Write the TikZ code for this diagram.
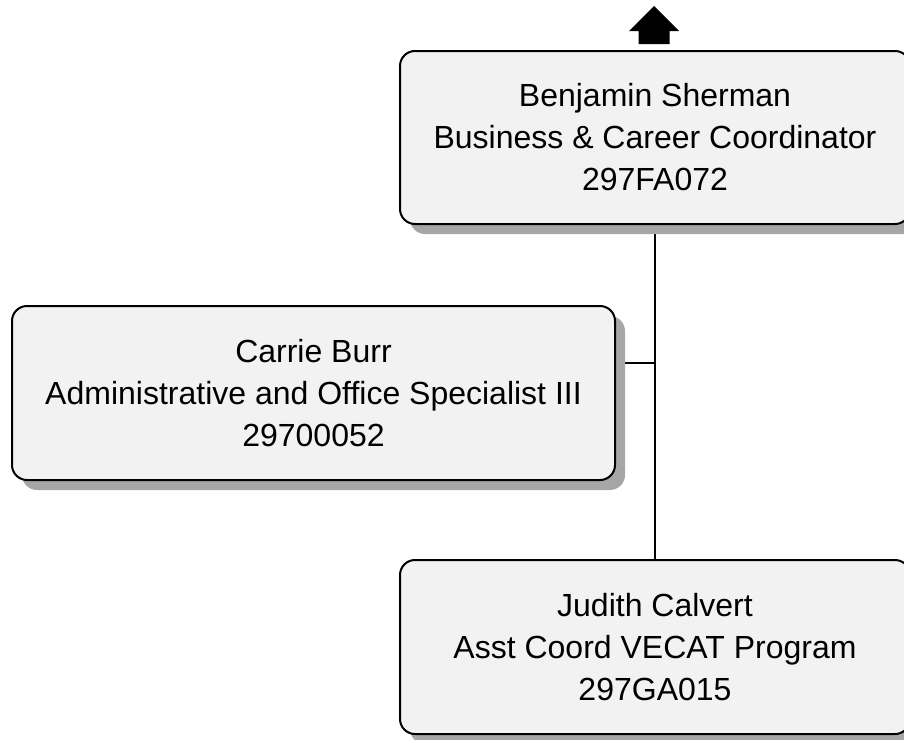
\documentclass[tikz,border=0pt]{standalone}
\usepackage{fontspec}
\setmainfont{Liberation Sans}
\usetikzlibrary{shadows,backgrounds,calc}
\definecolor{boxfill}{HTML}{F2F2F2}
\definecolor{shadowgray}{HTML}{A6A6A6}
\tikzset{
  staffbox/.style={draw, line width=2pt, fill=boxfill, rounded corners=15pt,
    align=center, inner sep=0pt, minimum height=173pt,
    font=\fontsize{32}{42}\selectfont,
    drop shadow={shadow xshift=10pt, shadow yshift=-10pt, fill=shadowgray, opacity=1}},
  link/.style={line width=2pt}
}
\begin{document}
\begin{tikzpicture}[x=1pt,y=1pt]
        % Fix the page size
        \useasboundingbox (0,0) rectangle (904,-739);

        % Draw the boxes
        \node[staffbox, minimum width=510pt] (sherman) at (655,-137.5)
          {Benjamin Sherman\\Business \& Career Coordinator\\297FA072};
        \node[staffbox, minimum width=603pt, minimum height=174pt] (burr) at (313.5,-393)
          {Carrie Burr\\Administrative and Office Specialist III\\29700052};
        \node[staffbox, minimum width=510pt, minimum height=174pt] (calvert) at (655,-647)
          {Judith Calvert\\Asst Coord VECAT Program\\297GA015};

        % Draw the connectors behind the shadows
        \coordinate (jct) at (sherman.south |- 0,-363);
        \begin{scope}[on background layer]
          \draw[link] (sherman.south) -- (calvert.north);
          \draw[link] (burr.east |- jct) -- (jct);
        \end{scope}

        % Draw the arrow above the top box
        \fill ($(sherman.north)+(-1,6)$) ++(-15.5,0) -- ++(0,13) -- ++(-9.5,0)
          -- ++(25,25) -- ++(25,-25) -- ++(-9.5,0) -- ++(0,-13) -- cycle;

      \end{tikzpicture}
\end{document}
